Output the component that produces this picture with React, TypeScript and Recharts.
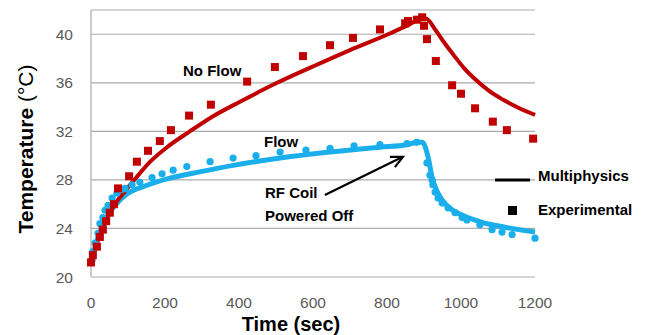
import React from "react";
import {
  ComposedChart,
  Line,
  Scatter,
  XAxis,
  YAxis,
  CartesianGrid,
  ReferenceLine,
} from "recharts";

// time ticks (sec) and temperature ticks (°C)
const timeTicks = [0, 200, 400, 600, 800, 1000, 1200];
const tempTicks = [20, 24, 28, 32, 36, 40];

// No Flow - experimental (squares)
const noFlowExp = [
  { t: 0, T: 21.2 }, { t: 5, T: 21.8 }, { t: 16, T: 22.5 }, { t: 24, T: 23.3 },
  { t: 32, T: 23.9 }, { t: 41, T: 24.6 }, { t: 51, T: 25.3 }, { t: 62, T: 26.0 },
  { t: 73, T: 27.3 }, { t: 103, T: 28.3 }, { t: 124, T: 29.5 }, { t: 154, T: 30.4 },
  { t: 186, T: 31.2 }, { t: 216, T: 32.1 }, { t: 265, T: 33.3 }, { t: 324, T: 34.2 },
  { t: 422, T: 36.1 }, { t: 497, T: 37.3 }, { t: 573, T: 38.2 }, { t: 646, T: 39.1 },
  { t: 708, T: 39.7 }, { t: 781, T: 40.4 }, { t: 849, T: 40.9 }, { t: 857, T: 41.1 },
  { t: 881, T: 41.2 }, { t: 895, T: 41.4 }, { t: 900, T: 40.7 }, { t: 908, T: 39.6 },
  { t: 932, T: 37.8 }, { t: 976, T: 35.8 }, { t: 1000, T: 35.1 }, { t: 1038, T: 33.9 },
  { t: 1086, T: 32.8 }, { t: 1124, T: 32.1 }, { t: 1195, T: 31.4 },
];

// No Flow - multiphysics (line)
const noFlowSim = [
  { t: 0, T: 21.0 }, { t: 10, T: 22.2 }, { t: 32, T: 24.0 }, { t: 60, T: 25.8 },
  { t: 90, T: 27.0 }, { t: 117, T: 28.0 }, { t: 160, T: 29.5 }, { t: 210, T: 30.8 },
  { t: 267, T: 32.0 }, { t: 330, T: 33.25 }, { t: 400, T: 34.4 }, { t: 503, T: 36.0 },
  { t: 600, T: 37.35 }, { t: 700, T: 38.7 }, { t: 803, T: 40.0 }, { t: 860, T: 40.8 },
  { t: 895, T: 41.3 }, { t: 905, T: 41.3 }, { t: 930, T: 40.4 }, { t: 955, T: 39.3 },
  { t: 980, T: 38.3 }, { t: 1010, T: 37.15 }, { t: 1040, T: 36.25 }, { t: 1075, T: 35.35 },
  { t: 1114, T: 34.6 }, { t: 1155, T: 33.95 }, { t: 1200, T: 33.35 },
];

// Flow - experimental (dots)
const flowExp = [
  { t: 3, T: 21.4 }, { t: 5, T: 22.1 }, { t: 11, T: 22.8 }, { t: 19, T: 23.6 },
  { t: 24, T: 24.4 }, { t: 32, T: 24.9 }, { t: 38, T: 25.5 }, { t: 46, T: 25.9 },
  { t: 57, T: 26.5 }, { t: 70, T: 26.9 }, { t: 84, T: 27.2 }, { t: 92, T: 27.3 },
  { t: 111, T: 27.6 }, { t: 132, T: 27.8 }, { t: 165, T: 28.2 }, { t: 192, T: 28.5 },
  { t: 222, T: 28.8 }, { t: 259, T: 29.1 }, { t: 322, T: 29.5 }, { t: 384, T: 29.8 },
  { t: 446, T: 30.0 }, { t: 511, T: 30.3 }, { t: 581, T: 30.45 }, { t: 646, T: 30.6 },
  { t: 711, T: 30.8 }, { t: 781, T: 30.9 }, { t: 854, T: 31.0 }, { t: 880, T: 31.1 },
  { t: 908, T: 29.4 }, { t: 916, T: 28.4 }, { t: 922, T: 28.0 }, { t: 924, T: 27.6 },
  { t: 930, T: 27.0 }, { t: 938, T: 26.5 }, { t: 949, T: 26.1 }, { t: 965, T: 25.7 },
  { t: 984, T: 25.3 }, { t: 1003, T: 24.9 }, { t: 1016, T: 24.7 }, { t: 1051, T: 24.3 },
  { t: 1084, T: 23.9 }, { t: 1111, T: 23.7 }, { t: 1138, T: 23.5 }, { t: 1200, T: 23.2 },
];

// Flow - multiphysics (line)
const flowSim = [
  { t: 0, T: 21.2 }, { t: 19, T: 23.3 }, { t: 38, T: 24.7 }, { t: 65, T: 25.9 },
  { t: 100, T: 26.9 }, { t: 146, T: 27.5 }, { t: 208, T: 28.1 }, { t: 300, T: 28.7 },
  { t: 384, T: 29.2 }, { t: 511, T: 29.8 }, { t: 646, T: 30.3 }, { t: 781, T: 30.7 },
  { t: 854, T: 30.9 }, { t: 884, T: 31.1 }, { t: 895, T: 31.1 }, { t: 911, T: 29.9 },
  { t: 922, T: 28.2 }, { t: 938, T: 26.9 }, { t: 965, T: 25.8 }, { t: 1003, T: 25.1 },
  { t: 1057, T: 24.5 }, { t: 1119, T: 24.1 }, { t: 1200, T: 23.7 },
];

// arrow annotation, in data units
const arrowSegment = [
  { x: 632, y: 26.75 },
  { x: 843, y: 29.9 },
];

const RED = "#C00000";
const BLUE = "#1AAFEA";
const GRID = "#ABABAB";
const FONT = "'Liberation Sans', Arial, sans-serif";

const Square = (p: any) => (
  <rect x={p.cx - 4} y={p.cy - 4} width={8} height={8} fill={RED} />
);
const Dot = (p: any) => <circle cx={p.cx} cy={p.cy} r={3.6} fill={BLUE} />;

const Arrow = (p: any) => {
  const { x1, y1, x2, y2 } = p;
  const a = Math.atan2(y2 - y1, x2 - x1);
  const len = 13;
  const spread = 0.45;
  const h1x = x2 - len * Math.cos(a - spread);
  const h1y = y2 - len * Math.sin(a - spread);
  const h2x = x2 - len * Math.cos(a + spread);
  const h2y = y2 - len * Math.sin(a + spread);
  return (
    <g stroke="#000" strokeWidth={2.2} fill="none">
      <line x1={x1} y1={y1} x2={x2} y2={y2} />
      <polyline points={`${h1x},${h1y} ${x2},${y2} ${h2x},${h2y}`} />
    </g>
  );
};

export default function App() {
  const tick = { fill: "#595959", fontSize: 15.5, fontFamily: FONT };
  const lbl = { fontFamily: FONT, fontWeight: 700, fontSize: 15, fill: "#000" };

  return (
    <div style={{ position: "absolute", left: 0, top: 0, width: 648, height: 335, background: "#fff" }}>
      <ComposedChart width={648} height={335} margin={{ top: 10, right: 113, bottom: 0, left: 0 }}>
        <CartesianGrid vertical={false} stroke={GRID} strokeWidth={1.2} />
        <XAxis
          type="number"
          dataKey="t"
          domain={[0, 1200]}
          ticks={timeTicks}
          height={58}
          tickSize={0}
          tickMargin={20}
          axisLine={false}
          tick={tick}
          interval={0}
        />
        <YAxis
          type="number"
          dataKey="T"
          domain={[20, 42]}
          ticks={tempTicks}
          width={91}
          tickSize={0}
          tickMargin={18}
          axisLine={{ stroke: GRID, strokeWidth: 1.2 }}
          tick={tick}
          interval={0}
        />
        <Line
          data={flowSim}
          dataKey="T"
          type="monotone"
          stroke={BLUE}
          strokeWidth={5}
          dot={false}
          isAnimationActive={false}
        />
        <Scatter data={flowExp} dataKey="T" shape={Dot} isAnimationActive={false} />
        <Line
          data={noFlowSim}
          dataKey="T"
          type="monotone"
          stroke={RED}
          strokeWidth={4}
          dot={false}
          isAnimationActive={false}
        />
        <Scatter data={noFlowExp} dataKey="T" shape={Square} isAnimationActive={false} />
        <ReferenceLine segment={arrowSegment} shape={Arrow} />
      </ComposedChart>

      <svg
        width={648}
        height={335}
        style={{ position: "absolute", left: 0, top: 0, pointerEvents: "none" }}
      >
        <text x={183} y={76} {...lbl}>No Flow</text>
        <text x={264} y={147} {...lbl}>Flow</text>
        <text x={265} y={198} {...lbl}>RF Coil</text>
        <text x={265} y={221} {...lbl}>Powered Off</text>

        {/* legend */}
        <line x1={495} y1={180} x2={530} y2={180} stroke="#000" strokeWidth={3} />
        <text x={538} y={181} {...lbl}>Multiphysics</text>
        <rect x={508} y={206} width={9} height={9} fill="#000" />
        <text x={538} y={215} {...lbl}>Experimental</text>

        {/* axis titles */}
        <text
          x={291}
          y={331}
          textAnchor="middle"
          fontFamily={FONT}
          fontWeight={700}
          fontSize={20}
          fill="#000"
        >
          Time (sec)
        </text>
        <text
          transform="translate(33,149) rotate(-90)"
          textAnchor="middle"
          fontFamily={FONT}
          fontSize={21}
          fill="#000"
        >
          <tspan fontWeight={700}>Temperature</tspan>
          <tspan> (°C)</tspan>
        </text>
      </svg>
    </div>
  );
}
